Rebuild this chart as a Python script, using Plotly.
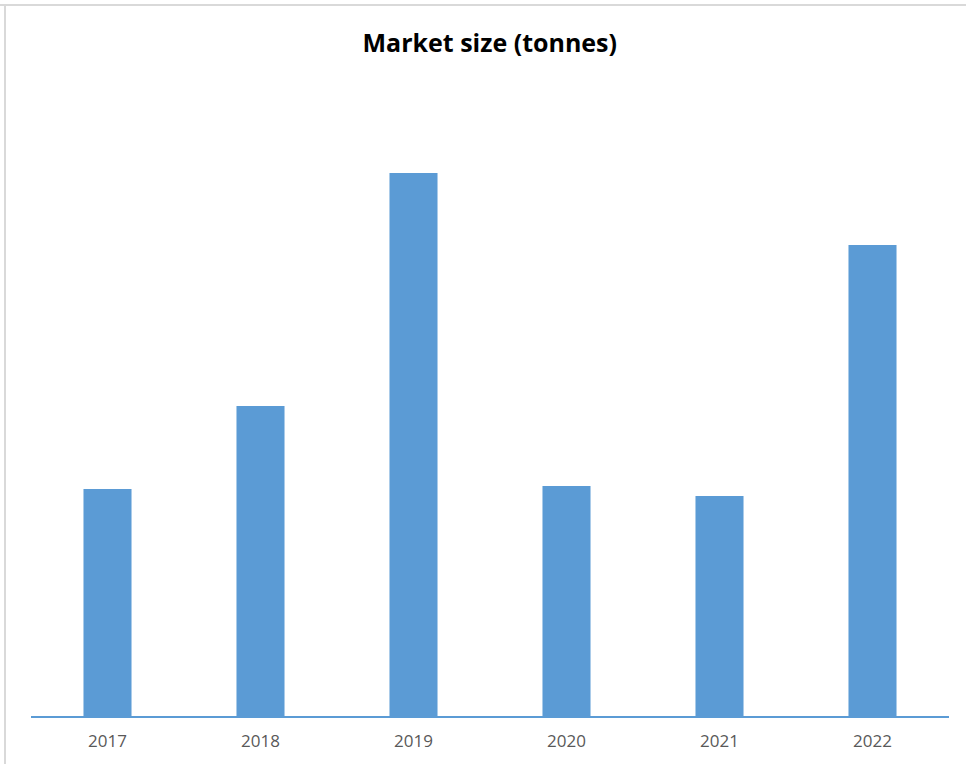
import plotly.graph_objects as go

# Annual market size (tonnes)
years = ["2017", "2018", "2019", "2020", "2021", "2022"]
market_size = [227, 310, 543, 230, 220, 471]

W, H = 966, 764
ml, mr, mt, mb = 31, 17, 60, 48

fig = go.Figure(
    go.Bar(
        x=years,
        y=market_size,
        marker=dict(color="#5b9bd5", line=dict(width=0)),
        hoverinfo="x+y",
    )
)

fig.update_layout(
    width=W,
    height=H,
    margin=dict(l=ml, r=mr, t=mt, b=mb),
    paper_bgcolor="white",
    plot_bgcolor="white",
    bargap=0.686,
    showlegend=False,
    title=dict(
        text="<b>Market size (tonnes)</b>",
        x=0.507,
        xanchor="center",
        y=1 - 43 / H,
        yanchor="middle",
        font=dict(family="Open Sans, sans-serif", size=25, color="#000000"),
    ),
    xaxis=dict(
        type="category",
        showline=True,
        linecolor="#5b9bd5",
        linewidth=2,
        ticks="",
        showgrid=False,
        tickfont=dict(family="Open Sans, sans-serif", size=17, color="#595959"),
        ticklabelstandoff=9,
    ),
    yaxis=dict(
        range=[0, H - mt - mb],
        visible=False,
        showgrid=False,
        zeroline=False,
    ),
    shapes=[
        # thin gray frame along the top and left edges
        dict(type="line", xref="paper", yref="paper",
             x0=-ml / (W - ml - mr), x1=1 + mr / (W - ml - mr),
             y0=1 + (mt - 5) / (H - mt - mb), y1=1 + (mt - 5) / (H - mt - mb),
             line=dict(color="#d9d9d9", width=2)),
        dict(type="line", xref="paper", yref="paper",
             x0=-(ml - 5) / (W - ml - mr), x1=-(ml - 5) / (W - ml - mr),
             y0=1 + (mt - 5) / (H - mt - mb), y1=-mb / (H - mt - mb),
             line=dict(color="#d9d9d9", width=2)),
    ],
)

fig.write_html("out.html")
